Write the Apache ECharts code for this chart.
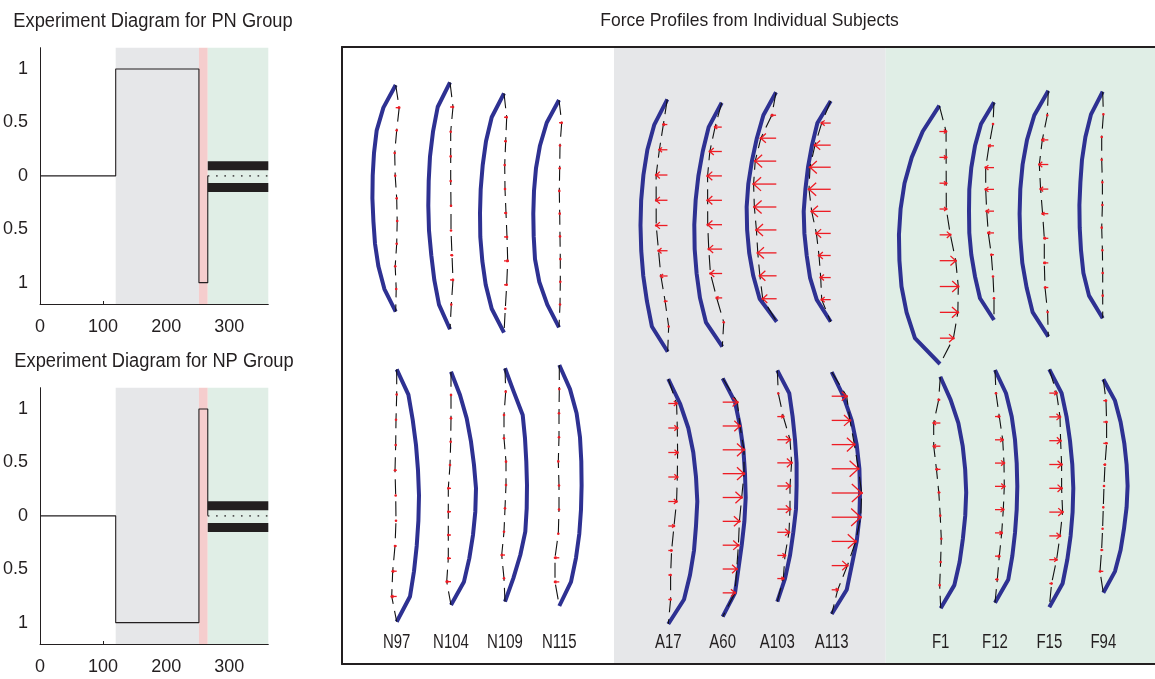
<!DOCTYPE html>
<html>
<head>
<meta charset="utf-8">
<script src="https://cdn.jsdelivr.net/npm/echarts@6/dist/echarts.min.js"></script>
<style>
html, body { margin: 0; padding: 0; background: #fff; }
#main { width: 1155px; height: 679px; }
</style>
</head>
<body>
<div id="main"></div>
<script>
// ---- Experiment protocol (time in trials, normalised field) ----
const stepTime = [0, 120, 120, 252, 252, 266, 266];
const pnLevel = [0, 0, 1, 1, -1, -1, 0];
const npLevel = [0, 0, -1, -1, 1, 1, 0];
const phaseEdges = [120, 252, 266, 362];      // adaptation | probe | force-field test | end
const channelWalls = [0.095, -0.11];          // error-clamp channel walls
const xTickValues = [0, 100, 200, 300];
const yTickValues = [-1, -0.5, 0, 0.5, 1];
const yTickText = ['1', '0.5', '0', '0.5', '1'];

// ---- Individual subjects ----
const subjects = ['N97', 'N104', 'N109', 'N115', 'A17', 'A60', 'A103', 'A113', 'F1', 'F12', 'F15', 'F94'];
const groupBands = [0, 272, 543.7, 813];      // panel x: null | adaptation | force-field groups

// start and end of each hand path [xStart, yStart, xEnd, yEnd]
const topEnds = [
  [53.7, 38, 53.7, 264.7], [108, 35.3, 108, 282.3], [162, 46.3, 162, 285.7], [217, 53, 217, 280.3],
  [325.3, 52.3, 325.7, 304.7], [379.7, 55.7, 380.3, 299.7], [434, 45.3, 434.7, 274.7], [488.7, 54, 488.7, 274.7],
  [597.3, 58.7, 598, 317], [652, 55.3, 652, 273], [706.3, 43.7, 706.3, 289.7], [760.7, 44.7, 760.7, 271.3]
];
// lateral deviation of the path at the nine interior samples
const topPath = [
  [-12.3, -19, -21.7, -23, -23.3, -22.3, -20.7, -17.3, -11.3],
  [-12.3, -17, -20, -21.3, -21.7, -21, -18.7, -15.7, -11],
  [-12.3, -18, -21.3, -23.3, -24, -23.7, -21.7, -18.3, -12.3],
  [-12.3, -19, -23, -25, -25.7, -25.3, -24, -19.7, -11.7],
  [-13, -20, -24, -26.3, -27, -26.3, -24.3, -20.7, -15.8],
  [-13.1, -19.1, -23.5, -26.3, -27.7, -27.4, -25.5, -22.2, -16.3],
  [-12.7, -19.3, -24.3, -28, -29.7, -29.3, -27.3, -23.3, -17],
  [-13.3, -18.7, -22.7, -25.3, -27, -26.3, -24, -20.7, -14],
  [-16.7, -27.7, -35, -39, -40.7, -40.3, -38.3, -33.3, -25],
  [-13, -19, -22.7, -24.7, -25, -24.7, -22.7, -19, -14],
  [-14, -21.3, -25.7, -28, -28.7, -28, -26, -21.7, -15.7],
  [-11.7, -17.3, -20.7, -22.3, -23.3, -23, -21.7, -19.3, -13.7]
];
// lateral force against the channel at the same samples
const topForce = [
  [3.5, 1, -1, -0.5, 1, 1.5, 1, -0.5, 0.5],
  [3, 0.7, 0.7, 0.7, 1, 1, 2, 3, 1.3],
  [2.7, 1.7, 0.7, 1, 2, 3, 3.7, 2.7, 1.3],
  [2.7, 1, 0.7, 0.3, 0.7, 1, 1.3, 1.3, 1],
  [-4, -8, -11.3, -11.3, -11.3, -9, -6.7, -2.5, 1],
  [-6.7, -12, -14.3, -14.3, -14.3, -13.3, -11.7, -5.5, 1.5],
  [-4.3, -15.3, -21, -22.7, -22, -20, -18.7, -16.7, -13.9],
  [-9, -15.7, -20.7, -21.7, -19, -14.3, -11.7, -10, -9],
  [6.7, 6.7, 6.7, 6.7, 10.7, 16, 18.5, 18, 13.5],
  [-1, -5, -8.3, -8.3, -7.3, -5.7, -2.7, -1, 0],
  [-1, -6, -9, -7.7, -5.7, -4, -4, -3.3, -0.7],
  [0.7, -1, -1, -0.3, -0.3, -1, -0.3, 0, 0]
];

const bottomEnds = [
  [54.7, 322.3, 54.7, 574.7], [109, 324.7, 109, 558], [163, 321.3, 163, 554.7], [217.3, 318, 217.3, 559],
  [326.3, 332, 326.3, 577], [380.7, 331.3, 380.7, 569.7], [435.3, 323.3, 435.3, 554.7], [489.7, 325, 489.7, 567],
  [598.3, 329.7, 598.7, 561.3], [653, 323, 653, 555.7], [707.3, 322.3, 707.3, 560.3], [761.3, 332.3, 761.3, 545.7]
];
const bottomPath = [
  [11.7, 16, 19.3, 21.3, 22.3, 21.7, 20, 17.3, 13.3],
  [9, 15.7, 20, 23, 25, 24.3, 22, 18.3, 13],
  [8.7, 17.7, 20, 21.3, 22, 21.7, 20.3, 15.3, 8.3],
  [10.7, 17.3, 20.7, 22, 22.3, 21.7, 20, 16.7, 11.7],
  [11.7, 20, 25, 27.7, 29, 27.7, 25.7, 21.7, 15.7],
  [12.3, 17.3, 20.7, 22.3, 23, 21.7, 19, 15.7, 12.3],
  [12, 15.3, 17.7, 19.3, 19.3, 18.7, 16, 12.7, 7.7],
  [11.7, 20, 25, 27.7, 28.3, 27.7, 25, 20, 15],
  [10.3, 18, 22.3, 24.7, 25.7, 24.7, 22.3, 19, 13.7],
  [11, 16.7, 20, 21.7, 22.3, 21.7, 20, 17.3, 13.3],
  [12.3, 17.3, 20.7, 23, 24, 23.3, 21.3, 18, 13.3],
  [11.7, 17.3, 21, 23.3, 24.3, 23.3, 20.7, 17.3, 11.7]
];
const bottomForce = [
  [0, -0.7, -1, -1.7, -1, -0.7, -1.7, -4, -5],
  [0, 0, -0.3, -1, -2.7, -2.7, -2.7, -2.7, -4.3],
  [0.7, -1, -1, 1, 1, 0, -1, -3.3, -1],
  [0, -0.3, -0.3, -1, -0.3, -0.3, -1, -4.3, -4.3],
  [8.3, 9, 9.3, 9, 8.3, 5.7, 3.3, 2.3, 2.3],
  [14.7, 17.3, 21.3, 21.3, 19, 16.7, 15.7, 14, 12.3],
  [1, 6, 12.7, 14.3, 12.7, 12.7, 11.7, 7.7, 6],
  [15, 18.3, 22.7, 26.7, 30, 29, 24, 15.7, 6],
  [-1.7, -6.7, -6.7, -4, -1.7, -0.3, 0.7, 0, -1],
  [1, 4.3, 7.7, 9, 9.3, 8.3, 6.7, 4.3, 2.3],
  [7.3, 10.7, 11.3, 12.3, 12.3, 13.3, 10.7, 7.3, 2.3],
  [2.7, 3.3, 3.3, 1.7, 0.7, 0, -0.7, -1.7, -3.3]
];
const labelRow = 596;

// ---- styling ----
const INK = '#231f20';
const BLUE = '#2e3192';
const RED = '#ed1c24';
const GRAY_BAND = '#e6e7e9';
const PINK_BAND = '#f5cdcd';
const GREEN_BAND = '#e0eee6';
const textFont = "'Liberation Sans',Arial,sans-serif";

const chart = echarts.init(document.getElementById('main'), null, { renderer: 'canvas' });

function protocolAxes(gridIndex) {
  return {
    x: {
      type: 'value', gridIndex, min: 0, max: 362,
      axisLine: { show: true, onZero: false, lineStyle: { color: INK, width: 1 } },
      axisTick: { show: true, inside: true, length: 3, customValues: xTickValues, lineStyle: { color: INK } },
      axisLabel: { customValues: xTickValues, margin: 14, color: INK, fontFamily: textFont, fontSize: 18 },
      splitLine: { show: false }
    },
    y: {
      type: 'value', gridIndex, min: -1.2, max: 1.2,
      axisLine: { show: true, onZero: false, lineStyle: { color: INK, width: 1 } },
      axisTick: { show: false },
      axisLabel: {
        customValues: yTickValues, margin: 12, color: INK, fontFamily: textFont, fontSize: 18,
        formatter: v => yTickText[yTickValues.indexOf(v)]
      },
      splitLine: { show: false }
    }
  };
}

function protocolSeries(axisIndex, levels) {
  const pts = (xs, ys) => xs.map((x, i) => [x, ys[i]]);
  const out = [];
  out.push({
    type: 'line', xAxisIndex: axisIndex, yAxisIndex: axisIndex, data: [], z: 1, silent: true,
    markArea: {
      silent: true,
      data: [
        [{ xAxis: phaseEdges[0], itemStyle: { color: GRAY_BAND, opacity: 1 } }, { xAxis: phaseEdges[1] }],
        [{ xAxis: phaseEdges[1], itemStyle: { color: PINK_BAND, opacity: 1 } }, { xAxis: phaseEdges[2] }],
        [{ xAxis: phaseEdges[2], itemStyle: { color: GREEN_BAND, opacity: 1 } }, { xAxis: phaseEdges[3] }]
      ]
    }
  });
  out.push({
    type: 'line', xAxisIndex: axisIndex, yAxisIndex: axisIndex, z: 3, symbol: 'none', silent: true,
    data: pts(stepTime, levels), lineStyle: { color: INK, width: 1.1 }
  });
  channelWalls.forEach(w => out.push({
    type: 'line', xAxisIndex: axisIndex, yAxisIndex: axisIndex, z: 3, symbol: 'none', silent: true,
    data: [[phaseEdges[2], w], [phaseEdges[3], w]], lineStyle: { color: INK, width: 9, cap: 'butt' }
  }));
  out.push({
    type: 'line', xAxisIndex: axisIndex, yAxisIndex: axisIndex, z: 3, symbol: 'none', silent: true,
    data: [[phaseEdges[2], 0], [phaseEdges[3], 0]], lineStyle: { color: '#555', width: 1.6, type: [1.6, 6.7] }
  });
  return out;
}

function subjectRenderer(ends, path, force) {
  return function (params, api) {
    const i = params.dataIndex;
    const [x0, y0, x1, y1] = ends[i];
    const bluePts = [], blackPts = [], arrows = [];
    for (let k = 0; k <= 10; k++) {
      const t = k / 10;
      const bx = x0 + (x1 - x0) * t;
      const by = y0 + (y1 - y0) * t;
      const dev = (k === 0 || k === 10) ? 0 : path[i][k - 1];
      const f = (k === 0 || k === 10) ? 0 : force[i][k - 1];
      bluePts.push(api.coord([bx + dev, by]));
      blackPts.push(api.coord([bx + f, by]));
      if (k > 0 && k < 10) arrows.push([api.coord([bx, by]), api.coord([bx + f, by])]);
    }
    const children = [];
    children.push({
      type: 'polyline', shape: { points: bluePts },
      style: { stroke: BLUE, lineWidth: 4, fill: null, lineJoin: 'round', lineCap: 'butt' }
    });
    children.push({
      type: 'polyline', shape: { points: blackPts },
      style: { stroke: '#111', lineWidth: 1.1, fill: null, lineDash: [15, 7] }
    });
    arrows.forEach(([tail, head]) => {
      const dx = head[0] - tail[0];
      const len = Math.abs(dx);
      const dir = Math.sign(dx);
      if (len > 1.5) {
        const hl = len * 0.33, hw = len * 0.3;
        children.push({
          type: 'line', shape: { x1: tail[0], y1: tail[1], x2: head[0], y2: head[1] },
          style: { stroke: RED, lineWidth: 1.3 }
        });
        children.push({
          type: 'polyline',
          shape: { points: [[head[0] - dir * hl, head[1] - hw], head, [head[0] - dir * hl, head[1] + hw]] },
          style: { stroke: RED, lineWidth: 1.3, fill: null }
        });
      }
      children.push({ type: 'circle', shape: { cx: head[0], cy: head[1], r: 1.3 }, style: { fill: RED } });
    });
    return { type: 'group', children };
  };
}

const pn = protocolAxes(0);
const np = protocolAxes(1);

const option = {
  animation: false,
  backgroundColor: '#fff',
  grid: [
    { left: 39.3, top: 47.7, width: 229, height: 256.3 },
    { left: 39.3, top: 387.7, width: 229, height: 256.3 },
    { left: 342, top: 47, width: 813, height: 617 }
  ],
  xAxis: [
    pn.x, np.x,
    { type: 'value', gridIndex: 2, min: 0, max: 813, z: 10, position: 'bottom',
      axisLine: { show: true, onZero: false, lineStyle: { color: INK, width: 2 } },
      axisTick: { show: false }, axisLabel: { show: false }, splitLine: { show: false } },
    { type: 'value', gridIndex: 2, min: 0, max: 813, z: 10, position: 'top',
      axisLine: { show: true, onZero: false, lineStyle: { color: INK, width: 2 } },
      axisTick: { show: false }, axisLabel: { show: false }, splitLine: { show: false } }
  ],
  yAxis: [
    pn.y, np.y,
    { type: 'value', gridIndex: 2, min: 0, max: 617, inverse: true, z: 10,
      axisLine: { show: true, onZero: false, lineStyle: { color: INK, width: 2 } },
      axisTick: { show: false }, axisLabel: { show: false }, splitLine: { show: false } }
  ],
  graphic: [
    { type: 'text', x: 153, y: 21, scaleY: 1.1, style: { text: 'Experiment Diagram for PN Group', fontFamily: textFont, fontSize: 18.3, fill: INK, align: 'center', verticalAlign: 'middle' } },
    { type: 'text', x: 154, y: 361, scaleY: 1.1, style: { text: 'Experiment Diagram for NP Group', fontFamily: textFont, fontSize: 18.3, fill: INK, align: 'center', verticalAlign: 'middle' } },
    { type: 'text', x: 749.5, y: 20.5, scaleY: 1.1, style: { text: 'Force Profiles from Individual Subjects', fontFamily: textFont, fontSize: 17.5, fill: INK, align: 'center', verticalAlign: 'middle' } }
  ],
  series: [
    ...protocolSeries(0, pnLevel),
    ...protocolSeries(1, npLevel),
    {
      type: 'line', xAxisIndex: 2, yAxisIndex: 2, data: [], z: 1, silent: true,
      markArea: {
        silent: true,
        data: [
          [{ xAxis: groupBands[1], itemStyle: { color: GRAY_BAND, opacity: 1 } }, { xAxis: groupBands[2] }],
          [{ xAxis: groupBands[2], itemStyle: { color: GREEN_BAND, opacity: 1 } }, { xAxis: groupBands[3] }]
        ]
      }
    },
    {
      type: 'custom', xAxisIndex: 2, yAxisIndex: 2, z: 4, silent: true,
      data: topEnds.map(e => [e[0], e[1]]),
      renderItem: subjectRenderer(topEnds, topPath, topForce)
    },
    {
      type: 'custom', xAxisIndex: 2, yAxisIndex: 2, z: 4, silent: true,
      data: bottomEnds.map(e => [e[0], e[1]]),
      renderItem: subjectRenderer(bottomEnds, bottomPath, bottomForce)
    },
    {
      type: 'custom', xAxisIndex: 2, yAxisIndex: 2, z: 4, silent: true,
      data: subjects.map((s, i) => [bottomEnds[i][2], labelRow]),
      renderItem: (params, api) => {
        const p = api.coord([api.value(0), api.value(1)]);
        return {
          type: 'text', x: p[0], y: p[1], scaleY: 1.3,
          style: { text: subjects[params.dataIndex], fontFamily: textFont, fontSize: 15, fill: INK, align: 'center', verticalAlign: 'middle' }
        };
      }
    }
  ]
};

chart.setOption(option);
</script>
</body>
</html>
